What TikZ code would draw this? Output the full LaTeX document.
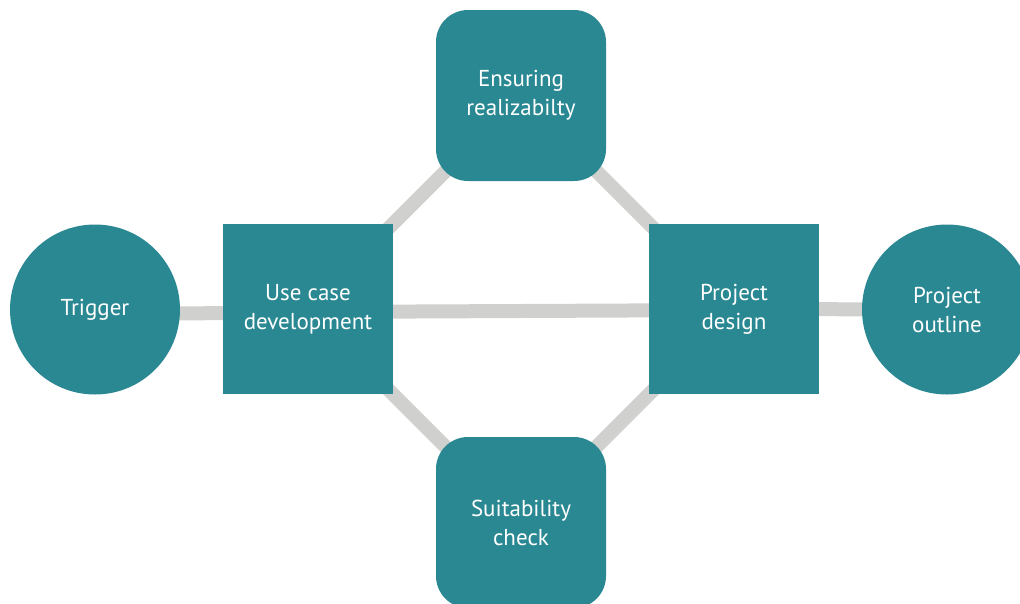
\documentclass[tikz,border=0pt]{standalone}
\usepackage{fontspec}
\setmainfont{PT Sans}
\usetikzlibrary{backgrounds}
\definecolor{tealfill}{RGB}{42,136,147}
\definecolor{linkgrey}{RGB}{208,208,206}
\begin{document}
\begin{tikzpicture}[x=1pt,y=-1pt,
  blob/.style={fill=tealfill, text=white, inner sep=0pt, align=center,
    font=\fontsize{23}{29}\selectfont},
  roundnode/.style={blob, circle, minimum size=170pt},
  squarenode/.style={blob, rectangle, minimum width=170pt, minimum height=170pt},
  softnode/.style={blob, rectangle, rounded corners=32pt, minimum width=170pt, minimum height=171pt},
  link/.style={draw=linkgrey, line width=14pt}]
\useasboundingbox (0,0) rectangle (1020,603);
\clip (0,0) rectangle (1020,603);
\node[roundnode] (trig) at (95,309.5) {Trigger};
\node[squarenode] (uc) at (308,309) {Use case\\development};
\node[softnode] (ens) at (521,95.5) {Ensuring\\realizabilty};
\node[squarenode] (pd) at (734,309) {Project\\design};
\node[roundnode] (po) at (947,309.5) {Project\\outline};
\node[softnode] (suit) at (521,522.5) {Suitability\\check};
\begin{scope}[on background layer]
\draw[link] ([yshift=-4pt]trig.center) -- ([yshift=-4pt]uc.center);
\draw[link] ([yshift=-3pt]uc.center) -- ([yshift=-1pt]pd.center);
\draw[link] (pd.center) -- (po.center);
\draw[link] (uc.center) -- (ens.center);
\draw[link] (ens.center) -- (pd.center);
\draw[link] (uc.center) -- (suit.center);
\draw[link] (suit.center) -- (pd.center);
\end{scope}
\end{tikzpicture}
\end{document}
